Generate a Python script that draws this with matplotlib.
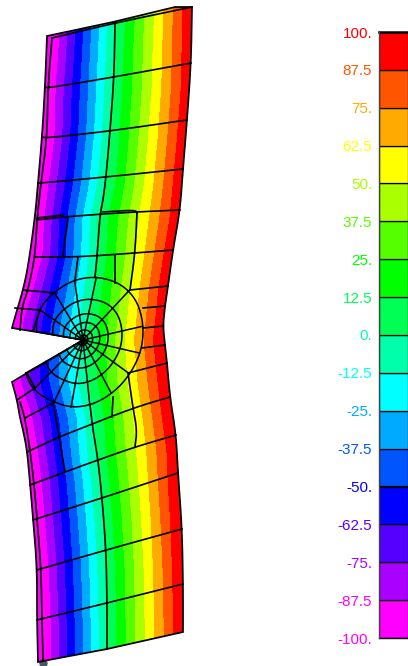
import numpy as np
import matplotlib
matplotlib.use("Agg")
import matplotlib.pyplot as plt
from matplotlib.patches import Polygon

plt.rcParams['font.family'] = ['Liberation Sans', 'DejaVu Sans']

# legend
levels = [-100, -87.5, -75, -62.5, -50, -37.5, -25, -12.5, 0, 12.5, 25, 37.5, 50, 62.5, 75, 87.5, 100]
level_labels = ["-100.", "-87.5", "-75.", "-62.5", "-50.", "-37.5", "-25.", "-12.5", "0.",
                "12.5", "25.", "37.5", "50.", "62.5", "75.", "87.5", "100."]
band_colors = ["#FF00FF", "#AA00FF", "#5500FF", "#0000FF", "#0055FF", "#00AAFF", "#00FFFF", "#00FFAA",
               "#00FF55", "#00FF00", "#55FF00", "#AAFF00", "#FFFF00", "#FFAA00", "#FF5500", "#FF0000"]
label_colors = ["#FF00FF"] + band_colors

# where the field reaches -100, 0 and 100 along the height of the specimen (pixels of the picture)
station_y = [5, 36, 88, 138, 183, 220, 257, 290, 320, 340, 382, 418, 450, 483, 518, 568, 618, 666]
station_low = [53, 52, 48, 47, 41, 37, 35, 25, 15, 12, 12, 24, 30, 34, 37, 41, 43, 43]
station_zero = [118, 115, 113, 110, 106, 98, 97, 93, 90, 87, 88, 95, 96, 100, 103, 106, 107, 107]
station_high = [192, 192, 191, 187, 183, 180, 173, 168, 165, 163, 168, 172, 177, 178, 180, 182, 183, 184]

# outline
right_edge = [(192, 7), (191, 63), (187, 120), (183, 169), (180, 210), (173, 250), (168, 286), (165, 306),
              (163, 326), (165, 345), (167, 363), (170, 397), (176, 435), (178, 473), (182, 529), (183, 584),
              (183, 632)]
bottom_edge = [(183, 632), (107, 649), (38, 662)]
left_lower = [(38, 662), (37, 618), (37, 568), (33, 518), (30, 483), (27, 450), (23, 430), (20, 418), (17, 400),
              (12, 382)]
lower_lip = [(12, 382), (27, 373), (53, 358), (83, 340)]
upper_lip = [(83, 340), (43, 333), (12, 328)]
left_upper = [(12, 328), (15, 317), (23, 290), (28, 267), (35, 217), (38, 183), (42, 137), (45, 87), (47, 36)]
top_edge = [(47, 36), (113, 22), (175, 7), (192, 7)]

# element edges away from the crack
mesh_lines = [
    [(52, 38), (115, 23), (192, 7)],
    [(52, 38), (48, 88), (47, 138), (41, 183), (37, 220), (35, 257), (28, 290), (22, 307), (20, 330)],
    [(115, 23), (114, 77), (110, 131), (106, 177), (103, 200), (100, 215), (97, 257), (95, 277)],
    [(45, 87), (48, 88), (114, 77), (191, 63)],
    [(42, 137), (47, 138), (110, 131), (187, 120)],
    [(38, 183), (41, 183), (106, 177), (183, 169)],
    [(37, 220), (63, 217), (103, 214), (135, 212), (180, 210)],
    [(37, 218), (63, 215)],
    [(103, 212), (135, 210), (137, 213)],
    [(68, 218), (63, 255)],
    [(78, 257), (75, 280)],
    [(137, 213), (135, 253), (130, 290)],
    [(35, 257), (78, 257), (135, 253), (173, 250)],
    [(115, 255), (115, 283)],
    [(23, 290), (55, 293)],
    [(130, 290), (168, 286)],
    [(15, 308), (40, 310)],
    [(40, 310), (33, 331)],
    [(143, 308), (165, 306)],
    [(143, 328), (163, 326)],
    [(142, 348), (165, 345)],
    [(128, 373), (167, 363)],
    [(27, 373), (35, 388)],
    [(17, 400), (35, 388)],
    [(20, 402), (25, 418), (30, 450), (34, 483), (37, 518), (41, 568), (42, 618), (43, 660)],
    [(25, 418), (53, 403)],
    [(53, 403), (58, 430), (59, 437), (65, 472)],
    [(90, 405), (93, 430), (98, 460), (102, 498), (106, 550), (107, 603), (107, 649)],
    [(128, 373), (133, 408), (137, 430), (135, 447)],
    [(113, 397), (112, 417)],
    [(27, 452), (59, 437), (77, 430), (133, 408), (170, 397)],
    [(30, 485), (65, 472), (98, 460), (135, 447), (176, 435)],
    [(33, 520), (102, 498), (178, 473)],
    [(37, 570), (106, 550), (182, 529)],
    [(37, 620), (107, 603), (183, 584)],
]

# polar mesh round the crack tip
crack_tip = (83, 340)
spoke_angle = [170, 145, 121, 98, 78, 47, 13, -13, -36, -62, -84, -100, -115, -135, -150]
spoke_radius = [47, 53, 55, 60, 64, 68, 61, 58, 57, 60, 65, 68, 68, 70, 66]
ring_fraction = [0.08, 0.16, 0.28, 0.42, 0.65, 1.0]


def rounded(points, passes=2):
    # corner cutting, so element edges bend instead of kinking
    pts = np.array(points, dtype=float)
    for _ in range(passes):
        q = 0.75 * pts[:-1] + 0.25 * pts[1:]
        r = 0.25 * pts[:-1] + 0.75 * pts[1:]
        mid = np.empty((2 * len(q), 2))
        mid[0::2] = q
        mid[1::2] = r
        pts = np.vstack([pts[0], mid, pts[-1]])
    return pts


fig = plt.figure(figsize=(4.08, 6.66), dpi=100)
ax = fig.add_axes([0, 0, 1, 1])
ax.set_xlim(0, 408)
ax.set_ylim(666, 0)
ax.axis("off")

# contour bands
low = np.array(station_low, dtype=float)
zero = np.array(station_zero, dtype=float)
high = np.array(station_high, dtype=float)
columns = np.array(levels)
X = np.array([np.interp(columns, [-100, 0, 100], [a, b, c]) for a, b, c in zip(low, zero, high)])
X = np.column_stack([low - 30, X, high + 30])
Z = np.tile(np.concatenate([[-140], columns, [140]]), (len(station_y), 1))
Y = np.tile(np.array(station_y, dtype=float)[:, None], (1, X.shape[1]))

outline = np.vstack([rounded(right_edge), np.array(bottom_edge[1:], dtype=float), rounded(left_lower),
                     np.array(lower_lip[1:], dtype=float), np.array(upper_lip[1:], dtype=float),
                     rounded(left_upper), np.array(top_edge[1:-1], dtype=float)])
body = Polygon(outline, closed=True, facecolor="none", edgecolor="black", linewidth=1.25, zorder=4)
ax.add_patch(body)
bands = ax.contourf(X, Y, Z, levels=levels, colors=["#FF00FF"] + band_colors + ["#FF0000"], extend="both", zorder=1)
bands.set_clip_path(body)

for line in mesh_lines:
    pts = rounded(line) if len(line) > 2 else np.array(line, dtype=float)
    ax.plot(pts[:, 0], pts[:, 1], color="black", lw=1.2, solid_joinstyle="round", zorder=3)

# crack tip mesh
theta = np.radians(spoke_angle)
radius = np.array(spoke_radius, dtype=float)
for t, r in zip(theta, radius):
    ax.plot([crack_tip[0], crack_tip[0] + r * np.cos(t)], [crack_tip[1], crack_tip[1] - r * np.sin(t)],
            color="black", lw=1.1, zorder=3)
arc = rounded(np.column_stack([theta, radius]), 3)
for frac in ring_fraction:
    ax.plot(crack_tip[0] + frac * arc[:, 1] * np.cos(arc[:, 0]), crack_tip[1] - frac * arc[:, 1] * np.sin(arc[:, 0]),
            color="black", lw=1.1, zorder=3)

# little foot at the bottom of the specimen
ax.plot([43], [663], marker="o", ms=5, color="#50506e", zorder=2)

# legend bar
cax = fig.add_axes([379 / 408, 1 - 638 / 666, 29 / 408, 606 / 666])
cax.barh(levels[:-1], 1, height=np.diff(levels), align="edge", color=band_colors, edgecolor="black", linewidth=0.9)
cax.set_xlim(0, 1)
cax.set_ylim(-100, 100)
cax.set_xticks([])
cax.set_yticks(levels)
cax.set_yticklabels(level_labels, fontsize=11)
cax.tick_params(axis="y", length=0, pad=5)
for tick, c in zip(cax.get_yticklabels(), label_colors):
    tick.set_color(c)
for side in ["right", "bottom", "top"]:
    cax.spines[side].set_visible(False)
cax.spines["left"].set_color("#444444")
cax.spines["left"].set_linewidth(1.0)
cax.axhline(100, color="black", lw=1.8, clip_on=False)
cax.axhline(-100, color="black", lw=1.0, clip_on=False)

fig.savefig("out.png", dpi=100)
